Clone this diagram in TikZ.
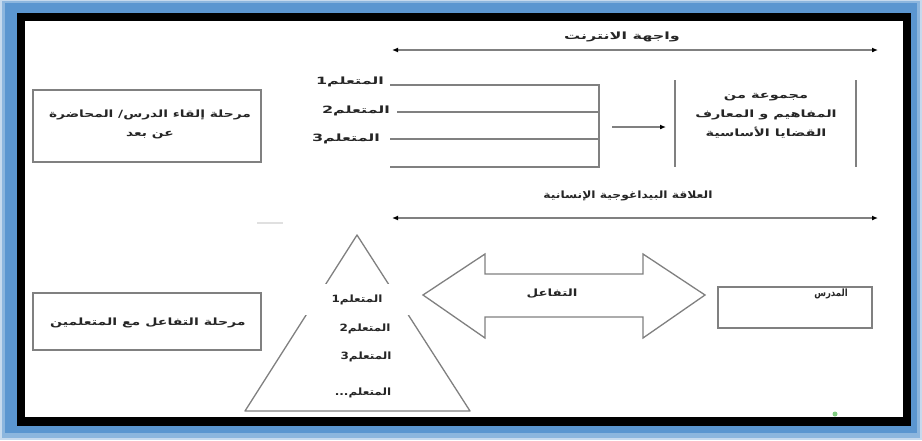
\documentclass[tikz,border=0pt]{standalone}
\usepackage{fontspec}
\usepackage{graphicx}
\usetikzlibrary{arrows.meta}
\TeXXeTstate=1
\newfontfamily\arabicfont[Script=Arabic]{DejaVu Sans Bold}
% right-to-left line, stretched horizontally by #1
\newcommand{\ar}[2][1.4]{\scalebox{#1}[1]{\arabicfont\beginR #2\endR}}
\definecolor{frameblue}{HTML}{5B96D0}
\definecolor{lineg}{HTML}{808080}
\tikzset{
  lbl/.style={font=\fontsize{10}{19}\selectfont, text=black!85, inner sep=1pt},
  gline/.style={draw=lineg, line width=1.3pt},
  tipline/.style={gline, {Latex[length=6pt,width=5pt,black]}-{Latex[length=6pt,width=5pt,black]}},
  onetip/.style={gline, -{Latex[length=6pt,width=5pt,black]}},
  box/.style={draw=lineg, line width=1.3pt, fill=white},
}
\begin{document}
\begin{tikzpicture}[x=1pt,y=-1pt]
% page frame: soft blue edge, blue band, black rule, white sheet
\fill[frameblue!35] (0,0) rectangle (922,440);
\fill[frameblue!70] (2,1) rectangle (920,438);
\fill[frameblue] (5,3) rectangle (917,433);
\fill[black] (17,13) rectangle (911,426);
\fill[white] (25,21) rectangle (903,417);
\useasboundingbox (0,0) rectangle (922,440);

% internet interface span
\coordinate (t1) at (392,50);
\coordinate (t2) at (878,50);
\draw[tipline] (t1) -- (t2);
\node[lbl] (ttl1) at (622,37) {\ar[1.6]{واجهة الانترنت}};

% remote lecture stage
\node[box, minimum width=228pt, minimum height=72pt] (stage1) at (147,126) {};
\node[lbl, align=center] (stage1t) at (150,124) {\ar[1.38]{مرحلة إلقاء الدرس/ المحاضرة}\\\ar[1.38]{عن بعد}};

% learners bracket
\coordinate (l1a) at (390,85);  \coordinate (l1b) at (599,85);
\coordinate (l2a) at (397,112); \coordinate (l2b) at (599,112);
\coordinate (l3a) at (390,139); \coordinate (l3b) at (599,139);
\coordinate (l4a) at (390,167); \coordinate (l4b) at (599,167);
\draw[gline] (l1a) -- (l1b) -- (l4b) -- (l4a);
\draw[gline] (l2a) -- (l2b);
\draw[gline] (l3a) -- (l3b);
\node[lbl] (u1) at (350,82) {\ar[1.6]{المتعلم1}};
\node[lbl] (u2) at (356,111) {\ar[1.6]{المتعلم2}};
\node[lbl] (u3) at (346,139) {\ar[1.6]{المتعلم3}};

% arrow towards the content block
\coordinate (a1) at (612,127);
\coordinate (a2) at (666,127);
\draw[onetip] (a1) -- (a2);

% content block between two bars
\coordinate (v1a) at (675,80); \coordinate (v1b) at (675,167);
\coordinate (v2a) at (856,80); \coordinate (v2b) at (856,167);
\draw[gline] (v1a) -- (v1b);
\draw[gline] (v2a) -- (v2b);
\node[lbl, align=center] (content) at (766,116) {\ar[1.45]{مجموعة من}\\\ar[1.45]{المفاهيم و المعارف}\\\ar[1.45]{القضايا الأساسية}};

% human pedagogical relation span
\coordinate (r1) at (392,218);
\coordinate (r2) at (878,218);
\draw[tipline] (r1) -- (r2);
\node[lbl] (ttl2) at (628,196) {\ar[1.23]{العلاقة البيداغوجية الإنسانية}};

% faint stray dash
\draw[black!12, line width=1.2pt] (257,223) -- (283,223);

% interaction stage
\node[box, minimum width=228pt, minimum height=57pt] (stage2) at (147,321.5) {};
\node[lbl] (stage2t) at (148,323) {\ar[1.41]{مرحلة التفاعل مع المتعلمين}};

% learners pyramid
\coordinate (pa) at (357,235);
\coordinate (pl) at (245,411);
\coordinate (pr) at (470,411);
\draw[gline, line join=round] (pa) -- (pr) -- (pl) -- cycle;
\node[lbl, fill=white, minimum width=107pt, minimum height=31pt] (p1) at (357,299.5) {\ar[1.2]{المتعلم1}};
\node[lbl] (p2) at (365,329) {\ar[1.2]{المتعلم2}};
\node[lbl] (p3) at (366,357) {\ar[1.2]{المتعلم3}};
\node[lbl] (p4) at (363,393) {\ar[1.2]{المتعلم...}};

% interaction double block arrow
\coordinate (da) at (423,295);
\coordinate (db) at (705,295);
\draw[gline, fill=white, line join=miter]
  (da) -- (485,254) -- (485,274) -- (643,274) -- (643,254) -- (db)
  -- (643,338) -- (643,317) -- (485,317) -- (485,338) -- cycle;
\node[lbl] (inter) at (552,294) {\ar[1.34]{التفاعل}};

% teacher box
\node[box, minimum width=154pt, minimum height=41pt] (teacher) at (795,307.5) {};
\node[lbl] (teachert) at (831,294) {\ar[0.85]{المدرس}};

% small green mark
\fill[green!60!black!50] (835,414) circle (2.5pt);
\end{tikzpicture}
\end{document}
